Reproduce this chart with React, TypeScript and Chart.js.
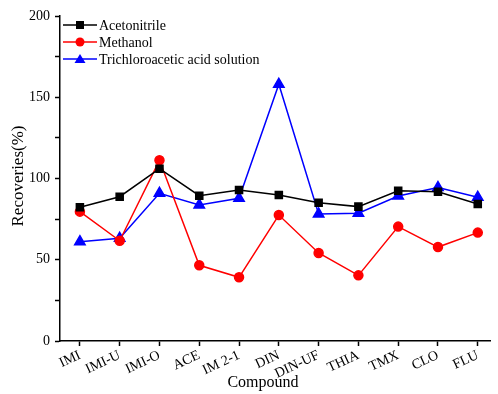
import React, { useEffect, useRef } from "react";
import { Chart, registerables } from "chart.js";

Chart.register(...registerables);

const categories = ["IMI", "IMI-U", "IMI-O", "ACE", "IM 2-1", "DIN", "DIN-UF", "THIA", "TMX", "CLO", "FLU"];
const acetonitrile = [82.3, 88.8, 106, 89.4, 92.9, 89.8, 85.1, 82.7, 92.5, 91.9, 84.3];
const methanol = [79.6, 61.7, 111.2, 46.6, 39.2, 77.5, 54.2, 40.4, 70.4, 57.8, 66.7];
const trichloro = [61.1, 63.2, 90.9, 83.7, 87.8, 158, 78.2, 78.6, 89.2, 94.4, 88.4];
const seriesNames = ["Acetonitrile", "Methanol", "Trichloroacetic acid solution"];
const yTicks = [0, 50, 100, 150, 200];
const xTitle = "Compound";
const yTitle = "Recoveries(%)";

const FONT = "'Liberation Serif', 'Times New Roman', serif";

const toPts = (arr: number[]) => arr.map((v, i) => ({ x: i, y: v }));

const legendPlugin = {
  id: "customLegend",
  afterDraw(chart: any) {
    const ctx = chart.ctx;
    const left = chart.chartArea.left;
    const rows = [25, 42, 59];
    const styles = [
      { color: "#000000", pt: "rect" },
      { color: "#ff0000", pt: "circle" },
      { color: "#0000ff", pt: "triangle" },
    ];
    ctx.save();
    ctx.font = `14px ${FONT}`;
    ctx.textBaseline = "middle";
    seriesNames.forEach((name, i) => {
      const y = rows[i];
      const s = styles[i];
      ctx.strokeStyle = s.color;
      ctx.lineWidth = 1.5;
      ctx.beginPath();
      ctx.moveTo(left + 3, y);
      ctx.lineTo(left + 37, y);
      ctx.stroke();
      ctx.fillStyle = s.color;
      const cx = left + 20;
      if (s.pt === "rect") {
        ctx.fillRect(cx - 4, y - 4, 8, 8);
      } else if (s.pt === "circle") {
        ctx.beginPath();
        ctx.arc(cx, y, 4.5, 0, Math.PI * 2);
        ctx.fill();
      } else {
        ctx.beginPath();
        ctx.moveTo(cx, y - 5);
        ctx.lineTo(cx + 5.5, y + 4);
        ctx.lineTo(cx - 5.5, y + 4);
        ctx.closePath();
        ctx.fill();
      }
      ctx.fillStyle = "#000";
      ctx.fillText(name, left + 39, y + 1);
    });
    // axis titles
    ctx.fillStyle = "#000";
    ctx.textAlign = "center";
    ctx.font = `16px ${FONT}`;
    ctx.fillText(xTitle, 263, 383);
    ctx.save();
    ctx.translate(18.5, 176);
    ctx.rotate(-Math.PI / 2);
    ctx.font = `17px ${FONT}`;
    ctx.fillText(yTitle, 0, 0);
    ctx.restore();
    ctx.restore();
  },
};

export default function App() {
  const ref = useRef<HTMLCanvasElement>(null);
  useEffect(() => {
    document.body.style.margin = "0";
    const chart = new Chart(ref.current!, {
      type: "line",
      data: {
        datasets: [
          {
            label: seriesNames[0],
            data: toPts(acetonitrile),
            borderColor: "#000000",
            backgroundColor: "#000000",
            borderWidth: 1.5,
            pointStyle: "rect",
            pointRadius: 5,
          },
          {
            label: seriesNames[1],
            data: toPts(methanol),
            borderColor: "#ff0000",
            backgroundColor: "#ff0000",
            borderWidth: 1.5,
            pointStyle: "circle",
            pointRadius: 4.5,
          },
          {
            label: seriesNames[2],
            data: toPts(trichloro),
            borderColor: "#0000ff",
            backgroundColor: "#0000ff",
            borderWidth: 1.5,
            pointStyle: "triangle",
            pointRadius: 6,
          },
        ],
      },
      options: {
        responsive: false,
        animation: false,
        layout: { padding: { left: 0, right: 5, top: 16, bottom: 0 } },
        plugins: { legend: { display: false }, tooltip: { enabled: false } },
        scales: {
          x: {
            type: "linear",
            min: -0.5,
            max: 10.32,
            afterBuildTicks: (axis: any) => {
              axis.ticks = categories.map((_, i) => ({ value: i }));
            },
            afterFit: (axis: any) => {
              axis.height = 53;
            },
            ticks: {
              autoSkip: false,
              minRotation: 25,
              maxRotation: 25,
              padding: 1,
              color: "#000",
              font: { family: FONT, size: 14 },
              callback: (v: any) => categories[v] ?? "",
            },
            grid: {
              drawOnChartArea: false,
              tickLength: 5,
              tickColor: "#000",
              tickWidth: 1.5,
            },
            border: { color: "#000", width: 1.5 },
          },
          y: {
            min: 0,
            max: 200,
            afterBuildTicks: (axis: any) => {
              const t: any[] = [];
              for (let v = 0; v <= 200; v += 25) t.push({ value: v });
              axis.ticks = t;
            },
            afterFit: (axis: any) => {
              axis.width = 60;
            },
            ticks: {
              color: "#000",
              padding: 5,
              font: { family: FONT, size: 14 },
              callback: (v: any) => (yTicks.includes(v) ? String(v) : ""),
            },
            grid: {
              drawOnChartArea: false,
              tickLength: 5,
              tickColor: "#000",
              tickWidth: 1.5,
            },
            border: { color: "#000", width: 1.5 },
          },
        },
      },
      plugins: [legendPlugin],
    } as any);
    return () => chart.destroy();
  }, []);
  return (
    <div style={{ width: 498, height: 394, overflow: "hidden" }}>
      <canvas ref={ref} width={498} height={394} style={{ display: "block" }} />
    </div>
  );
}
